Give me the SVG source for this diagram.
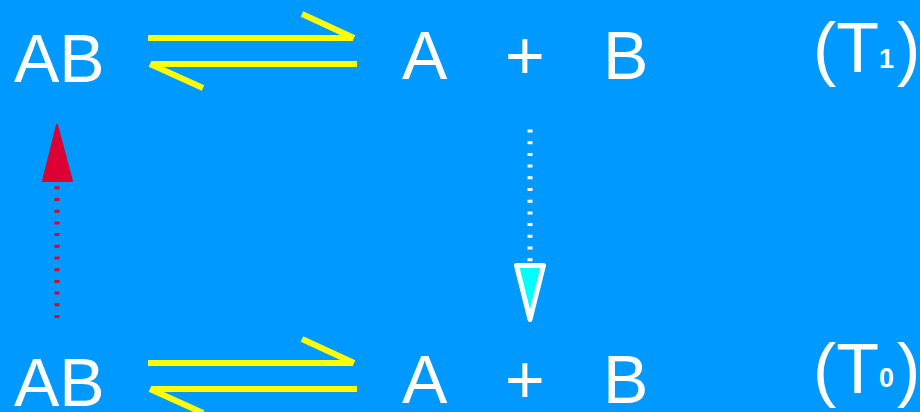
<svg xmlns="http://www.w3.org/2000/svg" width="920" height="412" viewBox="0 0 920 412">
<style>
.t{font-family:"Liberation Sans",Arial,sans-serif;fill:#fff;font-size:68px}
.p{font-family:"Liberation Sans",Arial,sans-serif;fill:#fff;font-size:70px}
.s{font-family:"Liberation Sans",Arial,sans-serif;fill:#fff;font-size:27px;font-weight:bold}
.eq{stroke:#ffff00;stroke-width:6;fill:none}
</style>
<rect width="920" height="412" fill="#0099ff"/>
<g id="top-AB"><text class="t" x="14" y="82">AB</text></g>
<g id="top-A"><text class="t" x="402" y="79">A</text></g>
<g id="top-plus"><text class="t" x="505" y="79">+</text></g>
<g id="top-B"><text class="t" x="603" y="79">B</text></g>
<g id="top-T1"><text class="p" x="813" y="72">(T</text><text class="s" x="879" y="68">1</text><text class="p" x="897" y="72">)</text></g>
<g id="bot-AB"><text class="t" x="14" y="406">AB</text></g>
<g id="bot-A"><text class="t" x="402" y="403">A</text></g>
<g id="bot-plus"><text class="t" x="505" y="403">+</text></g>
<g id="bot-B"><text class="t" x="603" y="403">B</text></g>
<g id="bot-T0"><text class="p" x="813" y="393">(T</text><text class="s" x="879" y="387">0</text><text class="p" x="897" y="393">)</text></g>
<g id="connectors">
<line class="eq" x1="148" y1="38" x2="353" y2="38"/>
<line class="eq" x1="302" y1="14" x2="354" y2="38"/>
<line class="eq" x1="151" y1="64" x2="357" y2="64"/>
<line class="eq" x1="150" y1="64" x2="203" y2="88"/>
<line class="eq" x1="148" y1="363" x2="353" y2="363"/>
<line class="eq" x1="302" y1="339" x2="354" y2="363"/>
<line class="eq" x1="151" y1="389" x2="357" y2="389"/>
<line class="eq" x1="150" y1="389" x2="203" y2="413"/>
<line x1="57" y1="318" x2="57" y2="184" stroke="#dd0033" stroke-width="5" stroke-dasharray="3 8.7"/>
<polygon points="57,125 72,181 43,181" fill="#dd0033" stroke="#dd0033" stroke-width="2" stroke-linejoin="round"/>
<line x1="530" y1="129.5" x2="530" y2="263" stroke="#fff" stroke-width="5" stroke-dasharray="3 8.7"/>
<polygon points="516.5,265.5 543.5,265.5 530,319.5" fill="#00ffff" stroke="#fff" stroke-width="5" stroke-linejoin="round"/>
</g>
</svg>
